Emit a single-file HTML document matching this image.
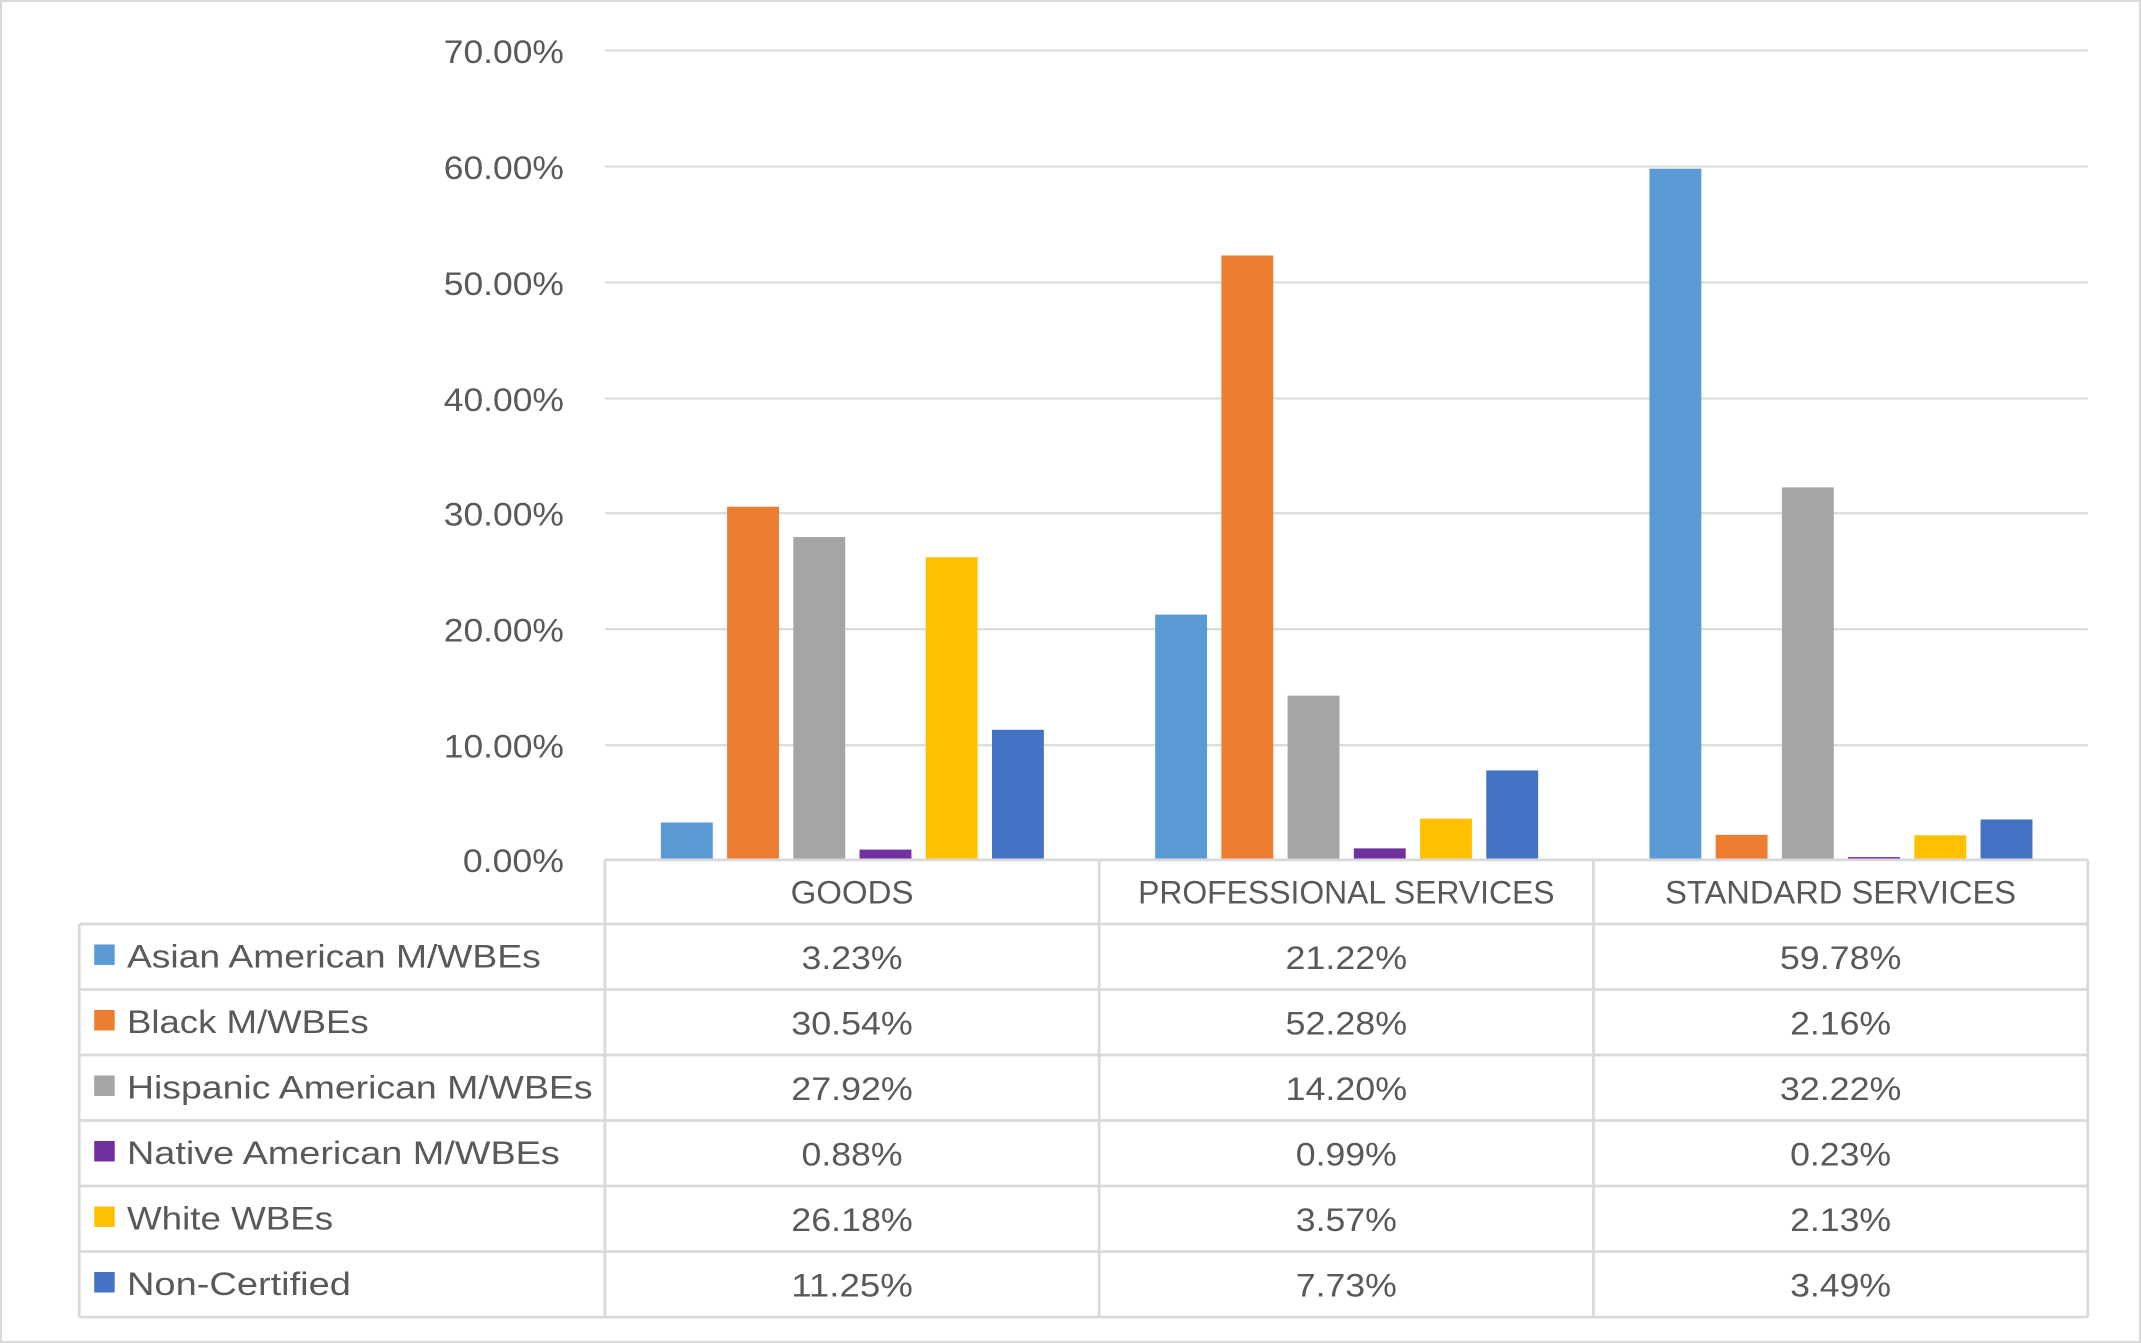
<!DOCTYPE html>
<html><head><meta charset="utf-8"><style>
html,body{margin:0;padding:0;background:#fff;}
svg{display:block;}
text{font-family:"Liberation Sans",sans-serif;fill:#595959;font-size:24px;}
</style></head><body>
<svg width="2141" height="1343" viewBox="0 0 1568 984" preserveAspectRatio="none" xmlns="http://www.w3.org/2000/svg">
<rect x="0.5" y="0.5" width="1567" height="983" fill="#fff" stroke="#D9D9D9" stroke-width="2"/>
<g stroke="#D9D9D9" stroke-width="1.5">
<line x1="443" y1="37" x2="1529" y2="37"/>
<line x1="443" y1="122" x2="1529" y2="122"/>
<line x1="443" y1="207" x2="1529" y2="207"/>
<line x1="443" y1="292" x2="1529" y2="292"/>
<line x1="443" y1="376" x2="1529" y2="376"/>
<line x1="443" y1="461" x2="1529" y2="461"/>
<line x1="443" y1="546" x2="1529" y2="546"/>
</g>
<g text-anchor="end" lengthAdjust="spacingAndGlyphs">
<text x="413" y="46" textLength="88" lengthAdjust="spacingAndGlyphs">70.00%</text>
<text x="413" y="131" textLength="88" lengthAdjust="spacingAndGlyphs">60.00%</text>
<text x="413" y="216" textLength="88" lengthAdjust="spacingAndGlyphs">50.00%</text>
<text x="413" y="301" textLength="88" lengthAdjust="spacingAndGlyphs">40.00%</text>
<text x="413" y="385" textLength="88" lengthAdjust="spacingAndGlyphs">30.00%</text>
<text x="413" y="470" textLength="88" lengthAdjust="spacingAndGlyphs">20.00%</text>
<text x="413" y="555" textLength="88" lengthAdjust="spacingAndGlyphs">10.00%</text>
<text x="413" y="639" textLength="74" lengthAdjust="spacingAndGlyphs">0.00%</text>
</g>
<!-- bars: y = 630 - v*8.47 -->
<g>
<rect x="484" y="602.6" width="38" height="27.4" fill="#5B9BD5"/>
<rect x="532.5" y="371.3" width="38" height="258.7" fill="#ED7D31"/>
<rect x="581" y="393.5" width="38" height="236.5" fill="#A5A5A5"/>
<rect x="629.5" y="622.5" width="38" height="7.5" fill="#7030A0"/>
<rect x="678" y="408.3" width="38" height="221.7" fill="#FFC000"/>
<rect x="726.5" y="534.7" width="38" height="95.3" fill="#4472C4"/>

<rect x="846" y="450.3" width="38" height="179.7" fill="#5B9BD5"/>
<rect x="894.5" y="187.2" width="38" height="442.8" fill="#ED7D31"/>
<rect x="943" y="509.7" width="38" height="120.3" fill="#A5A5A5"/>
<rect x="991.5" y="621.6" width="38" height="8.4" fill="#7030A0"/>
<rect x="1040" y="599.8" width="38" height="30.2" fill="#FFC000"/>
<rect x="1088.5" y="564.5" width="38" height="65.5" fill="#4472C4"/>

<rect x="1208" y="123.6" width="38" height="506.4" fill="#5B9BD5"/>
<rect x="1256.5" y="611.7" width="38" height="18.3" fill="#ED7D31"/>
<rect x="1305" y="357.1" width="38" height="272.9" fill="#A5A5A5"/>
<rect x="1353.5" y="628" width="38" height="2" fill="#7030A0"/>
<rect x="1402" y="612" width="38" height="18" fill="#FFC000"/>
<rect x="1450.5" y="600.4" width="38" height="29.6" fill="#4472C4"/>
</g>
<!-- table -->
<g stroke="#D9D9D9" stroke-width="2" fill="none">
<line x1="443" y1="630" x2="1529" y2="630"/>
<line x1="58" y1="677" x2="1529" y2="677"/>
<line x1="58" y1="725" x2="1529" y2="725"/>
<line x1="58" y1="773" x2="1529" y2="773"/>
<line x1="58" y1="821" x2="1529" y2="821"/>
<line x1="58" y1="869" x2="1529" y2="869"/>
<line x1="58" y1="917" x2="1529" y2="917"/>
<line x1="58" y1="965" x2="1529" y2="965"/>
<line x1="58" y1="677" x2="58" y2="965"/>
<line x1="443" y1="630" x2="443" y2="965"/>
<line x1="805" y1="630" x2="805" y2="965"/>
<line x1="1167" y1="630" x2="1167" y2="965"/>
<line x1="1529" y1="630" x2="1529" y2="965"/>
</g>
<g text-anchor="middle">
<text x="624" y="662" textLength="90" lengthAdjust="spacingAndGlyphs">GOODS</text>
<text x="986" y="662" textLength="305" lengthAdjust="spacingAndGlyphs">PROFESSIONAL SERVICES</text>
<text x="1348" y="662" textLength="257" lengthAdjust="spacingAndGlyphs">STANDARD SERVICES</text>

<text x="624" y="710" textLength="74" lengthAdjust="spacingAndGlyphs">3.23%</text>
<text x="986" y="710" textLength="89" lengthAdjust="spacingAndGlyphs">21.22%</text>
<text x="1348" y="710" textLength="89" lengthAdjust="spacingAndGlyphs">59.78%</text>

<text x="624" y="758" textLength="89" lengthAdjust="spacingAndGlyphs">30.54%</text>
<text x="986" y="758" textLength="89" lengthAdjust="spacingAndGlyphs">52.28%</text>
<text x="1348" y="758" textLength="74" lengthAdjust="spacingAndGlyphs">2.16%</text>

<text x="624" y="806" textLength="89" lengthAdjust="spacingAndGlyphs">27.92%</text>
<text x="986" y="806" textLength="89" lengthAdjust="spacingAndGlyphs">14.20%</text>
<text x="1348" y="806" textLength="89" lengthAdjust="spacingAndGlyphs">32.22%</text>

<text x="624" y="854" textLength="74" lengthAdjust="spacingAndGlyphs">0.88%</text>
<text x="986" y="854" textLength="74" lengthAdjust="spacingAndGlyphs">0.99%</text>
<text x="1348" y="854" textLength="74" lengthAdjust="spacingAndGlyphs">0.23%</text>

<text x="624" y="902" textLength="89" lengthAdjust="spacingAndGlyphs">26.18%</text>
<text x="986" y="902" textLength="74" lengthAdjust="spacingAndGlyphs">3.57%</text>
<text x="1348" y="902" textLength="74" lengthAdjust="spacingAndGlyphs">2.13%</text>

<text x="624" y="950" textLength="89" lengthAdjust="spacingAndGlyphs">11.25%</text>
<text x="986" y="950" textLength="74" lengthAdjust="spacingAndGlyphs">7.73%</text>
<text x="1348" y="950" textLength="74" lengthAdjust="spacingAndGlyphs">3.49%</text>
</g>
<g>
<rect x="69" y="692" width="15" height="15" fill="#5B9BD5"/>
<rect x="69" y="740" width="15" height="15" fill="#ED7D31"/>
<rect x="69" y="788" width="15" height="15" fill="#A5A5A5"/>
<rect x="69" y="836" width="15" height="15" fill="#7030A0"/>
<rect x="69" y="884" width="15" height="15" fill="#FFC000"/>
<rect x="69" y="932" width="15" height="15" fill="#4472C4"/>
<text x="93" y="709" textLength="303" lengthAdjust="spacingAndGlyphs">Asian American M/WBEs</text>
<text x="93" y="757" textLength="177" lengthAdjust="spacingAndGlyphs">Black M/WBEs</text>
<text x="93" y="805" textLength="341" lengthAdjust="spacingAndGlyphs">Hispanic American M/WBEs</text>
<text x="93" y="853" textLength="317" lengthAdjust="spacingAndGlyphs">Native American M/WBEs</text>
<text x="93" y="901" textLength="151" lengthAdjust="spacingAndGlyphs">White WBEs</text>
<text x="93" y="949" textLength="164" lengthAdjust="spacingAndGlyphs">Non-Certified</text>
</g>
</svg>
</body></html>
